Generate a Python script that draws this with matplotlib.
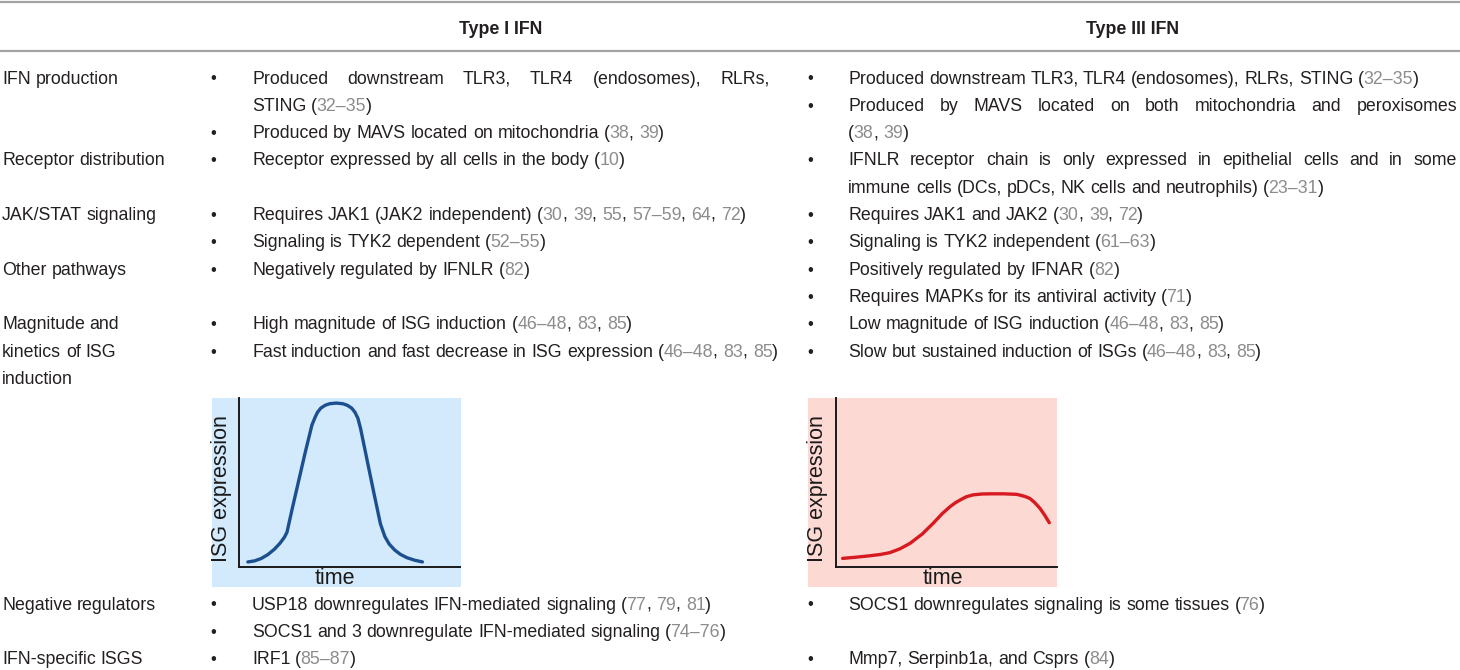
import re
import matplotlib
matplotlib.use("Agg")
import matplotlib.pyplot as plt
from matplotlib.patches import Rectangle

# ---- table content ----
headers = ["Type I IFN", "Type III IFN"]

row_labels = [
    ["IFN production"],
    ["Receptor distribution"],
    ["JAK/STAT signaling"],
    ["Other pathways"],
    ["Magnitude and", "kinetics of ISG", "induction"],
    ["Negative regulators"],
    ["IFN-specific ISGS"],
]

# each row: list of bullet paragraphs, each paragraph already wrapped into lines
# {..} marks a citation (drawn grey)
type1_items = [
    [["Produced downstream TLR3, TLR4 (endosomes), RLRs,", "STING ({32–35})"],
     ["Produced by MAVS located on mitochondria ({38}, {39})"]],
    [["Receptor expressed by all cells in the body ({10})"]],
    [["Requires JAK1 (JAK2 independent) ({30}, {39}, {55}, {57–59}, {64}, {72})"],
     ["Signaling is TYK2 dependent ({52–55})"]],
    [["Negatively regulated by IFNLR ({82})"]],
    [["High magnitude of ISG induction ({46–48}, {83}, {85})"],
     ["Fast induction and fast decrease in ISG expression ({46–48}, {83}, {85})"]],
    [["USP18 downregulates IFN-mediated signaling ({77}, {79}, {81})"],
     ["SOCS1 and 3 downregulate IFN-mediated signaling ({74–76})"]],
    [["IRF1 ({85–87})"]],
]

type3_items = [
    [["Produced downstream TLR3, TLR4 (endosomes), RLRs, STING ({32–35})"],
     ["Produced by MAVS located on both mitochondria and peroxisomes", "({38}, {39})"]],
    [["IFNLR receptor chain is only expressed in epithelial cells and in some",
      "immune cells (DCs, pDCs, NK cells and neutrophils) ({23–31})"]],
    [["Requires JAK1 and JAK2 ({30}, {39}, {72})"],
     ["Signaling is TYK2 independent ({61–63})"]],
    [["Positively regulated by IFNAR ({82})"],
     ["Requires MAPKs for its antiviral activity ({71})"]],
    [["Low magnitude of ISG induction ({46–48}, {83}, {85})"],
     ["Slow but sustained induction of ISGs ({46–48}, {83}, {85})"]],
    [["SOCS1 downregulates signaling is some tissues ({76})"]],
    [["Mmp7, Serpinb1a, and Csprs ({84})"]],
]

chart_row = 4

# ---- the two kinetics sketches (0-100 axis units) ----
t1_time = [4, 7, 10, 13, 16, 18.5, 20.5, 21.7, 24, 27, 30, 33, 34.4, 35.5,
           37, 39, 41, 44, 47, 49, 51, 52.5, 53.8, 55, 58, 61, 64, 66, 68,
           70.5, 73, 76, 79.5, 83]
t1_isg = [3, 3.6, 5, 7.3, 10.5, 14, 17.5, 20.5, 34, 51, 68, 84, 88.5, 91.5,
          94, 95.7, 96.6, 97, 96.6, 95.7, 94, 91.5, 88, 82, 63, 44, 25.5,
          18, 13.5, 10, 7.5, 5.5, 4, 3]

t3_time = [3, 9, 15, 20, 24.4, 29, 33.5, 39, 44, 48, 51.6, 54, 56.1, 59,
           62.1, 66, 70, 76, 81.7, 84, 86, 87.8, 90, 92.3, 94.5, 96.5]
t3_isg = [5.1, 5.8, 6.6, 7.4, 8.5, 10.8, 14, 19.5, 25.9, 31.5, 35.7, 38,
          39.6, 41.6, 42.7, 43.2, 43.3, 43.3, 43, 42.3, 41.5, 40.5, 38,
          34.7, 30.5, 26.2]

# ---- style ----
INK = "#231f20"
CITE = "#8c8c8c"
RULE = "#a3a3a3"
BODY, FS = "Liberation Sans", 12.8

W, H = 1460, 670
fig = plt.figure(figsize=(W / 100, H / 100), dpi=100)
ax = fig.add_axes([0, 0, 1, 1])
ax.set_xlim(0, W)
ax.set_ylim(H, 0)
ax.axis("off")
renderer = fig.canvas.get_renderer()
TXT = dict(family=BODY, fontsize=FS, va="baseline", ha="left")


def text_width(s):
    t = ax.text(0, 0, s, **TXT)
    w = t.get_window_extent(renderer).width
    t.remove()
    return w


def put_line(x, y, s, end=None):
    # split markup into coloured, space-free pieces with their place in the plain line
    plain = re.sub(r"[{}]", "", s)
    segs = []
    pos = 0
    for part in re.split(r"(\{[^}]*\})", s):
        if not part:
            continue
        col = INK
        if part.startswith("{"):
            part, col = part[1:-1], CITE
        for m in re.finditer(r"\S+", part):
            segs.append((pos + m.start(), pos + m.end(), col))
        pos += len(part)
    extra = 0
    n_gaps = len(re.findall(r" +", plain))
    if end is not None and n_gaps:
        extra = (end - x - text_width(plain)) / n_gaps
    for a, b, col in segs:
        word_idx = len(re.findall(r" +", plain[:a]))
        off = text_width(plain[:b]) - text_width(plain[a:b])
        if a > 0 and plain[a - 1] != " ":
            off -= 0.8  # piece glued to the previous one
        ax.text(x + off + word_idx * extra, y, plain[a:b], color=col, **TXT)


# columns
LABEL_X = 2
COLS = [dict(bullet=213, text=252, end=770, items=type1_items),
        dict(bullet=810, text=848, end=1457, items=type3_items)]
HEAD_X = [501, 1133]
BASE = 6.5
LINE0, STEP = 77, 27.3

# rules and headers
ax.plot([0, W], [1.5, 1.5], color=RULE, lw=1.6, solid_capstyle="butt")
ax.plot([0, W], [51, 51], color=RULE, lw=1.6, solid_capstyle="butt")
for hx, h in zip(HEAD_X, headers):
    ax.text(hx, 27 + BASE, h, family=BODY, fontsize=FS, fontweight="bold",
            color=INK, ha="center", va="baseline")

y = LINE0
for i, label in enumerate(row_labels):
    for k, ln in enumerate(label):
        put_line(LABEL_X, y + k * STEP + BASE, ln)
    counts = [len(label)]
    for col in COLS:
        k = 0
        for para in col["items"][i]:
            ax.text(col["bullet"], y + k * STEP + BASE, "•", family=BODY,
                    fontsize=FS - 1, color=INK, ha="center", va="baseline")
            for j, ln in enumerate(para):
                end = col["end"] if j < len(para) - 1 else None
                put_line(col["text"], y + k * STEP + BASE, ln, end=end)
                k += 1
        counts.append(k)
    y += max(counts) * STEP
    if i == chart_row:
        box_top, box_bot = 398, 587
        panels = [(212, 239, "#d2eafb", "#1b4f8f", t1_time, t1_isg, 335, 221),
                  (808, 836, "#fdd9d4", "#d71920", t3_time, t3_isg, 943, 817)]
        for bx, axx, bg, lc, tx, ty, tlx, ylx in panels:
            ax.add_patch(Rectangle((bx, box_top), 249, box_bot - box_top,
                                   facecolor=bg, edgecolor="none", zorder=0))
            sub = fig.add_axes([axx / W, (H - 567) / H, 221 / W, (567 - box_top) / H])
            sub.patch.set_alpha(0)
            sub.plot(tx, ty, color=lc, lw=2.4, solid_capstyle="round",
                     solid_joinstyle="round")
            sub.set_xlim(0, 100)
            sub.set_ylim(0, 100)
            sub.set_xticks([])
            sub.set_yticks([])
            for side in ("top", "right"):
                sub.spines[side].set_visible(False)
            for side in ("left", "bottom"):
                sub.spines[side].set_color("#1a1a1a")
                sub.spines[side].set_linewidth(1.4)
            ax.text(tlx, 578, "time", family="Liberation Sans", fontsize=15.5,
                    color="#1a1a1a", ha="center", va="center")
            ax.text(ylx, 489, "ISG expression", family="Liberation Sans",
                    fontsize=15.5, color="#1a1a1a", ha="center", va="center",
                    rotation=90)
        y = 603

fig.savefig("out.png", dpi=100, facecolor="white")
